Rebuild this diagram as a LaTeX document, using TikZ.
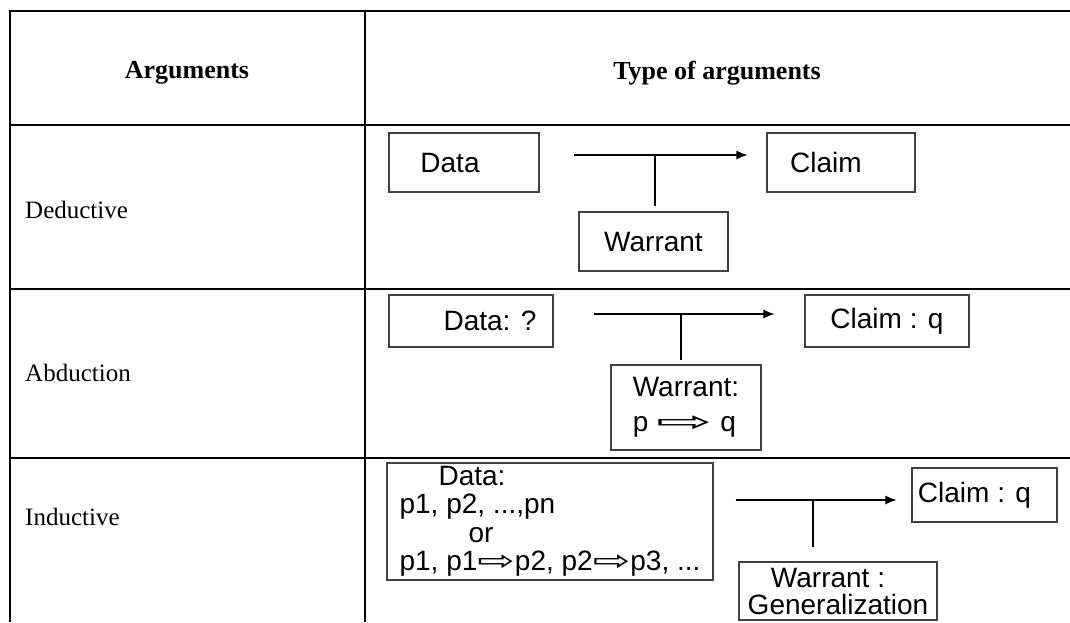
\documentclass[tikz,border=0pt]{standalone}
\usepackage{fontspec}
\setmainfont{Liberation Serif}
\newfontfamily\diagfont{Liberation Sans}
\newfontfamily\symfont{DejaVu Sans}
\usepackage{tikz}
\usetikzlibrary{positioning}
\usetikzlibrary{arrows.meta}

\newcommand{\flecha}{\scalebox{1.6}[1]{\symfont ⇨}}
\newcommand{\flechalarga}{\scalebox{2.4}[1]{\symfont ⇨}}

\begin{document}
\begin{tikzpicture}[x=1pt, y=-1pt,
    caja/.style={draw=black!75, line width=1.1pt, rectangle, inner sep=0pt, font=\diagfont\fontsize{28}{29}\selectfont},
    tabla/.style={line width=2.2pt},
    flechaarg/.style={-{Latex[length=11pt,width=9pt]}, line width=1.1pt},
    cabecera/.style={font=\bfseries\fontsize{26}{28}\selectfont},
    etiqueta/.style={anchor=west, inner sep=0pt, font=\fontsize{25}{27}\selectfont}]
              \useasboundingbox (0,0) rectangle (1070,622);

              % Tabla
              \draw[tabla] (1070,11) -- (10,11) -- (10,622);
              \draw[tabla] (365,11) -- (365,622);
              \foreach \y in {125,289,458}
                \draw[tabla] (10,\y) -- (1070,\y);

              \node[cabecera] (h1) at (187,73) {Arguments};
              \node[cabecera] (h2) at (717,73) {Type of arguments};
              \node[etiqueta] (ded) at (25,210) {Deductive};
              \node[etiqueta] (abd) at (25,373) {Abduction};
              \node[etiqueta] (ind) at (25,517) {Inductive};

              % Nodos
              \node[caja, minimum width=150pt, minimum height=59pt] (data1) at (464,162.5) {Data\hspace*{28pt}};
              \node[caja, minimum width=148pt, minimum height=59pt] (claim1) at (841,162.5) {Claim\hspace*{30pt}};
              \node[caja, minimum width=149pt, minimum height=59pt] (warrant1) at (653.5,241.5) {Warrant};
              \coordinate (cruce1) at (655,155);

              \node[caja, minimum width=164pt, minimum height=52pt] (data2) at (471,321) {\hspace*{38pt}Data: ?};
              \node[caja, minimum width=164pt, minimum height=52pt] (claim2) at (887,321) {Claim : q};
              \node[caja, minimum width=150pt, minimum height=85pt, align=left] (warrant2) at (686,407.5) {Warrant:\\[6pt]p \flechalarga\ q};
              \coordinate (cruce2) at (681,314);

              \node[caja, minimum width=326pt, minimum height=117pt, align=left, font=\diagfont\fontsize{28}{28.5}\selectfont] (data3) at (550,521.5)
                {\hspace*{39pt}Data:\\p1, p2, ...,pn\\\hspace*{69pt}or\\p1, p1\flecha p2, p2\flecha p3, ...};
              \node[caja, minimum width=145pt, minimum height=54pt] (claim3) at (984.5,495) {Claim : q\hspace*{20pt}};
              \node[caja, minimum width=198pt, minimum height=58pt, align=center, font=\diagfont\fontsize{28}{27}\selectfont] (warrant3) at (838,591) {Warrant :\hspace*{20pt}\\Generalization};
              \coordinate (cruce3) at (813,500);

              % Aristas
              \draw[flechaarg, shorten <=34pt, shorten >=19pt] (data1.east |- cruce1) -- (claim1.west |- cruce1);
              \draw[line width=1.1pt, shorten >=5pt] (cruce1) -- (cruce1 |- warrant1.north);
              \draw[flechaarg, shorten <=40pt, shorten >=30pt] (data2.east |- cruce2) -- (claim2.west |- cruce2);
              \draw[line width=1.1pt, shorten >=4pt] (cruce2) -- (cruce2 |- warrant2.north);
              \draw[flechaarg, shorten <=22pt, shorten >=15pt] (data3.east |- cruce3) -- (claim3.west |- cruce3);
              \draw[line width=1.1pt, shorten >=14pt] (cruce3) -- (cruce3 |- warrant3.north);
            \end{tikzpicture}
\end{document}
